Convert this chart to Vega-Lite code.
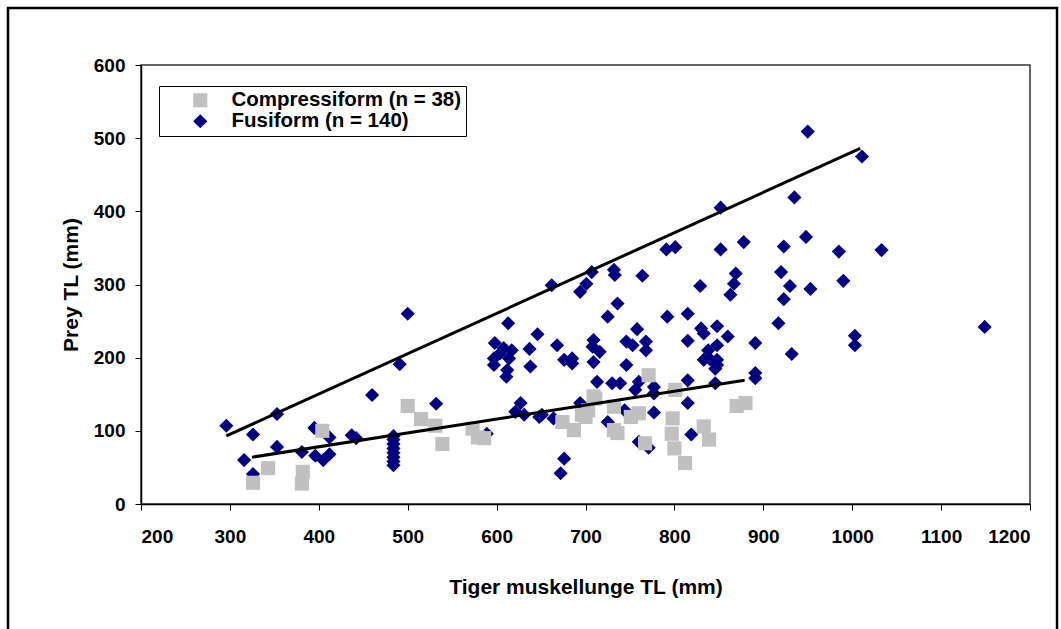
{
  "$schema": "https://vega.github.io/schema/vega-lite/v6.json",
  "autosize": {"type": "none"},
  "width": 889,
  "height": 439,
  "padding": {"left": 141, "top": 65, "right": 31, "bottom": 125},
  "background": "white",
  "config": {
    "font": "Liberation Sans",
    "view": {"stroke": "#333333", "strokeWidth": 1.5},
    "axis": {
      "grid": false,
      "domainColor": "black",
      "domainWidth": 1.5,
      "tickColor": "black",
      "tickWidth": 1,
      "tickSize": 6,
      "labelFont": "Liberation Sans",
      "labelFontWeight": "bold",
      "labelFontSize": 19,
      "labelColor": "black",
      "titleFont": "Liberation Sans",
      "titleFontWeight": "bold",
      "titleFontSize": 21,
      "titleColor": "black"
    }
  },
  "datasets": {
    "fits": [
      {"line": "Fusiform", "tiger": 296, "prey": 93},
      {"line": "Fusiform", "tiger": 1009, "prey": 486},
      {"line": "Compressiform", "tiger": 325, "prey": 64},
      {"line": "Compressiform", "tiger": 879, "prey": 169}
    ],
    "points": [
      {"form": "Fusiform (n = 140)", "tiger": 296, "prey": 107},
      {"form": "Fusiform (n = 140)", "tiger": 316, "prey": 60},
      {"form": "Fusiform (n = 140)", "tiger": 326, "prey": 95},
      {"form": "Fusiform (n = 140)", "tiger": 326, "prey": 41},
      {"form": "Fusiform (n = 140)", "tiger": 353, "prey": 123},
      {"form": "Fusiform (n = 140)", "tiger": 353, "prey": 78},
      {"form": "Fusiform (n = 140)", "tiger": 381, "prey": 71},
      {"form": "Fusiform (n = 140)", "tiger": 395, "prey": 104},
      {"form": "Fusiform (n = 140)", "tiger": 396, "prey": 66},
      {"form": "Fusiform (n = 140)", "tiger": 405, "prey": 60},
      {"form": "Fusiform (n = 140)", "tiger": 412, "prey": 91},
      {"form": "Fusiform (n = 140)", "tiger": 412, "prey": 68},
      {"form": "Fusiform (n = 140)", "tiger": 437, "prey": 94},
      {"form": "Fusiform (n = 140)", "tiger": 442, "prey": 90},
      {"form": "Fusiform (n = 140)", "tiger": 460, "prey": 149},
      {"form": "Fusiform (n = 140)", "tiger": 484, "prey": 53},
      {"form": "Fusiform (n = 140)", "tiger": 484, "prey": 58},
      {"form": "Fusiform (n = 140)", "tiger": 484, "prey": 64},
      {"form": "Fusiform (n = 140)", "tiger": 484, "prey": 70},
      {"form": "Fusiform (n = 140)", "tiger": 484, "prey": 76},
      {"form": "Fusiform (n = 140)", "tiger": 484, "prey": 82},
      {"form": "Fusiform (n = 140)", "tiger": 484, "prey": 88},
      {"form": "Fusiform (n = 140)", "tiger": 484, "prey": 93},
      {"form": "Fusiform (n = 140)", "tiger": 491, "prey": 191},
      {"form": "Fusiform (n = 140)", "tiger": 500, "prey": 260},
      {"form": "Fusiform (n = 140)", "tiger": 532, "prey": 137},
      {"form": "Fusiform (n = 140)", "tiger": 589, "prey": 96},
      {"form": "Fusiform (n = 140)", "tiger": 598, "prey": 220},
      {"form": "Fusiform (n = 140)", "tiger": 608, "prey": 213},
      {"form": "Fusiform (n = 140)", "tiger": 617, "prey": 210},
      {"form": "Fusiform (n = 140)", "tiger": 604, "prey": 206},
      {"form": "Fusiform (n = 140)", "tiger": 597, "prey": 199},
      {"form": "Fusiform (n = 140)", "tiger": 614, "prey": 199},
      {"form": "Fusiform (n = 140)", "tiger": 597, "prey": 190},
      {"form": "Fusiform (n = 140)", "tiger": 612, "prey": 183},
      {"form": "Fusiform (n = 140)", "tiger": 611, "prey": 174},
      {"form": "Fusiform (n = 140)", "tiger": 613, "prey": 247},
      {"form": "Fusiform (n = 140)", "tiger": 637, "prey": 212},
      {"form": "Fusiform (n = 140)", "tiger": 638, "prey": 188},
      {"form": "Fusiform (n = 140)", "tiger": 627, "prey": 138},
      {"form": "Fusiform (n = 140)", "tiger": 621, "prey": 126},
      {"form": "Fusiform (n = 140)", "tiger": 631, "prey": 122},
      {"form": "Fusiform (n = 140)", "tiger": 646, "prey": 232},
      {"form": "Fusiform (n = 140)", "tiger": 651, "prey": 122},
      {"form": "Fusiform (n = 140)", "tiger": 648, "prey": 119},
      {"form": "Fusiform (n = 140)", "tiger": 664, "prey": 117},
      {"form": "Fusiform (n = 140)", "tiger": 662, "prey": 299},
      {"form": "Fusiform (n = 140)", "tiger": 668, "prey": 217},
      {"form": "Fusiform (n = 140)", "tiger": 676, "prey": 197},
      {"form": "Fusiform (n = 140)", "tiger": 685, "prey": 199},
      {"form": "Fusiform (n = 140)", "tiger": 685, "prey": 192},
      {"form": "Fusiform (n = 140)", "tiger": 694, "prey": 290},
      {"form": "Fusiform (n = 140)", "tiger": 701, "prey": 301},
      {"form": "Fusiform (n = 140)", "tiger": 707, "prey": 317},
      {"form": "Fusiform (n = 140)", "tiger": 694, "prey": 138},
      {"form": "Fusiform (n = 140)", "tiger": 698, "prey": 131},
      {"form": "Fusiform (n = 140)", "tiger": 676, "prey": 62},
      {"form": "Fusiform (n = 140)", "tiger": 672, "prey": 42},
      {"form": "Fusiform (n = 140)", "tiger": 709, "prey": 224},
      {"form": "Fusiform (n = 140)", "tiger": 708, "prey": 215},
      {"form": "Fusiform (n = 140)", "tiger": 716, "prey": 208},
      {"form": "Fusiform (n = 140)", "tiger": 709, "prey": 194},
      {"form": "Fusiform (n = 140)", "tiger": 713, "prey": 167},
      {"form": "Fusiform (n = 140)", "tiger": 730, "prey": 165},
      {"form": "Fusiform (n = 140)", "tiger": 739, "prey": 165},
      {"form": "Fusiform (n = 140)", "tiger": 725, "prey": 256},
      {"form": "Fusiform (n = 140)", "tiger": 725, "prey": 112},
      {"form": "Fusiform (n = 140)", "tiger": 732, "prey": 320},
      {"form": "Fusiform (n = 140)", "tiger": 733, "prey": 313},
      {"form": "Fusiform (n = 140)", "tiger": 736, "prey": 274},
      {"form": "Fusiform (n = 140)", "tiger": 746, "prey": 222},
      {"form": "Fusiform (n = 140)", "tiger": 753, "prey": 217},
      {"form": "Fusiform (n = 140)", "tiger": 758, "prey": 239},
      {"form": "Fusiform (n = 140)", "tiger": 768, "prey": 222},
      {"form": "Fusiform (n = 140)", "tiger": 768, "prey": 210},
      {"form": "Fusiform (n = 140)", "tiger": 746, "prey": 190},
      {"form": "Fusiform (n = 140)", "tiger": 744, "prey": 128},
      {"form": "Fusiform (n = 140)", "tiger": 758, "prey": 124},
      {"form": "Fusiform (n = 140)", "tiger": 777, "prey": 125},
      {"form": "Fusiform (n = 140)", "tiger": 760, "prey": 167},
      {"form": "Fusiform (n = 140)", "tiger": 756, "prey": 156},
      {"form": "Fusiform (n = 140)", "tiger": 777, "prey": 160},
      {"form": "Fusiform (n = 140)", "tiger": 777, "prey": 151},
      {"form": "Fusiform (n = 140)", "tiger": 760, "prey": 85},
      {"form": "Fusiform (n = 140)", "tiger": 771, "prey": 77},
      {"form": "Fusiform (n = 140)", "tiger": 764, "prey": 312},
      {"form": "Fusiform (n = 140)", "tiger": 791, "prey": 348},
      {"form": "Fusiform (n = 140)", "tiger": 801, "prey": 351},
      {"form": "Fusiform (n = 140)", "tiger": 792, "prey": 256},
      {"form": "Fusiform (n = 140)", "tiger": 815, "prey": 260},
      {"form": "Fusiform (n = 140)", "tiger": 815, "prey": 223},
      {"form": "Fusiform (n = 140)", "tiger": 800, "prey": 156},
      {"form": "Fusiform (n = 140)", "tiger": 815, "prey": 169},
      {"form": "Fusiform (n = 140)", "tiger": 815, "prey": 138},
      {"form": "Fusiform (n = 140)", "tiger": 819, "prey": 95},
      {"form": "Fusiform (n = 140)", "tiger": 829, "prey": 298},
      {"form": "Fusiform (n = 140)", "tiger": 830, "prey": 240},
      {"form": "Fusiform (n = 140)", "tiger": 833, "prey": 233},
      {"form": "Fusiform (n = 140)", "tiger": 848, "prey": 243},
      {"form": "Fusiform (n = 140)", "tiger": 860, "prey": 229},
      {"form": "Fusiform (n = 140)", "tiger": 848, "prey": 217},
      {"form": "Fusiform (n = 140)", "tiger": 838, "prey": 210},
      {"form": "Fusiform (n = 140)", "tiger": 833, "prey": 197},
      {"form": "Fusiform (n = 140)", "tiger": 840, "prey": 198},
      {"form": "Fusiform (n = 140)", "tiger": 848, "prey": 197},
      {"form": "Fusiform (n = 140)", "tiger": 848, "prey": 190},
      {"form": "Fusiform (n = 140)", "tiger": 846, "prey": 185},
      {"form": "Fusiform (n = 140)", "tiger": 846, "prey": 165},
      {"form": "Fusiform (n = 140)", "tiger": 852, "prey": 348},
      {"form": "Fusiform (n = 140)", "tiger": 852, "prey": 405},
      {"form": "Fusiform (n = 140)", "tiger": 869, "prey": 315},
      {"form": "Fusiform (n = 140)", "tiger": 867, "prey": 301},
      {"form": "Fusiform (n = 140)", "tiger": 863, "prey": 286},
      {"form": "Fusiform (n = 140)", "tiger": 878, "prey": 358},
      {"form": "Fusiform (n = 140)", "tiger": 891, "prey": 220},
      {"form": "Fusiform (n = 140)", "tiger": 891, "prey": 179},
      {"form": "Fusiform (n = 140)", "tiger": 891, "prey": 172},
      {"form": "Fusiform (n = 140)", "tiger": 917, "prey": 247},
      {"form": "Fusiform (n = 140)", "tiger": 920, "prey": 317},
      {"form": "Fusiform (n = 140)", "tiger": 923, "prey": 280},
      {"form": "Fusiform (n = 140)", "tiger": 923, "prey": 352},
      {"form": "Fusiform (n = 140)", "tiger": 930, "prey": 298},
      {"form": "Fusiform (n = 140)", "tiger": 932, "prey": 205},
      {"form": "Fusiform (n = 140)", "tiger": 935, "prey": 419},
      {"form": "Fusiform (n = 140)", "tiger": 948, "prey": 365},
      {"form": "Fusiform (n = 140)", "tiger": 950, "prey": 509},
      {"form": "Fusiform (n = 140)", "tiger": 953, "prey": 294},
      {"form": "Fusiform (n = 140)", "tiger": 985, "prey": 345},
      {"form": "Fusiform (n = 140)", "tiger": 990, "prey": 305},
      {"form": "Fusiform (n = 140)", "tiger": 1003, "prey": 230},
      {"form": "Fusiform (n = 140)", "tiger": 1003, "prey": 217},
      {"form": "Fusiform (n = 140)", "tiger": 1011, "prey": 475},
      {"form": "Fusiform (n = 140)", "tiger": 1033, "prey": 347},
      {"form": "Fusiform (n = 140)", "tiger": 1149, "prey": 242},
      {"form": "Compressiform (n = 38)", "tiger": 326, "prey": 29},
      {"form": "Compressiform (n = 38)", "tiger": 343, "prey": 49},
      {"form": "Compressiform (n = 38)", "tiger": 381, "prey": 28},
      {"form": "Compressiform (n = 38)", "tiger": 382, "prey": 44},
      {"form": "Compressiform (n = 38)", "tiger": 404, "prey": 100},
      {"form": "Compressiform (n = 38)", "tiger": 500, "prey": 134},
      {"form": "Compressiform (n = 38)", "tiger": 515, "prey": 116},
      {"form": "Compressiform (n = 38)", "tiger": 531, "prey": 107},
      {"form": "Compressiform (n = 38)", "tiger": 539, "prey": 82},
      {"form": "Compressiform (n = 38)", "tiger": 573, "prey": 103},
      {"form": "Compressiform (n = 38)", "tiger": 579, "prey": 91},
      {"form": "Compressiform (n = 38)", "tiger": 586, "prey": 90},
      {"form": "Compressiform (n = 38)", "tiger": 674, "prey": 112},
      {"form": "Compressiform (n = 38)", "tiger": 687, "prey": 101},
      {"form": "Compressiform (n = 38)", "tiger": 696, "prey": 122},
      {"form": "Compressiform (n = 38)", "tiger": 703, "prey": 128},
      {"form": "Compressiform (n = 38)", "tiger": 709, "prey": 147},
      {"form": "Compressiform (n = 38)", "tiger": 700, "prey": 119},
      {"form": "Compressiform (n = 38)", "tiger": 711, "prey": 144},
      {"form": "Compressiform (n = 38)", "tiger": 732, "prey": 133},
      {"form": "Compressiform (n = 38)", "tiger": 732, "prey": 101},
      {"form": "Compressiform (n = 38)", "tiger": 736, "prey": 97},
      {"form": "Compressiform (n = 38)", "tiger": 751, "prey": 119},
      {"form": "Compressiform (n = 38)", "tiger": 760, "prey": 124},
      {"form": "Compressiform (n = 38)", "tiger": 767, "prey": 83},
      {"form": "Compressiform (n = 38)", "tiger": 771, "prey": 176},
      {"form": "Compressiform (n = 38)", "tiger": 798, "prey": 117},
      {"form": "Compressiform (n = 38)", "tiger": 797, "prey": 96},
      {"form": "Compressiform (n = 38)", "tiger": 800, "prey": 76},
      {"form": "Compressiform (n = 38)", "tiger": 801, "prey": 156},
      {"form": "Compressiform (n = 38)", "tiger": 812, "prey": 56},
      {"form": "Compressiform (n = 38)", "tiger": 833, "prey": 106},
      {"form": "Compressiform (n = 38)", "tiger": 839, "prey": 88},
      {"form": "Compressiform (n = 38)", "tiger": 870, "prey": 134},
      {"form": "Compressiform (n = 38)", "tiger": 880, "prey": 138}
    ]
  },
  "layer": [
    {
      "data": {"name": "points"},
      "mark": {"type": "point", "filled": true, "opacity": 1, "size": 200, "strokeWidth": 0},
      "encoding": {
        "x": {
          "field": "tiger", "type": "quantitative",
          "scale": {"domain": [200, 1200], "nice": false, "zero": false},
          "axis": {"values": [200, 300, 400, 500, 600, 700, 800, 900, 1000, 1100, 1200], "format": "d", "labelPadding": 17, "title": "Tiger muskellunge TL (mm)", "titlePadding": 30}
        },
        "y": {
          "field": "prey", "type": "quantitative",
          "scale": {"domain": [0, 600], "nice": false},
          "axis": {"values": [0, 100, 200, 300, 400, 500, 600], "format": "d", "labelPadding": 10, "title": "Prey TL (mm)", "titlePadding": 12}
        },
        "color": {
          "field": "form", "type": "nominal",
          "scale": {"domain": ["Compressiform (n = 38)", "Fusiform (n = 140)"], "range": ["#C0C0C0", "#000080"]},
          "legend": {
            "title": null, "orient": "none", "legendX": 18, "legendY": 21,
            "strokeColor": "black", "fillColor": "white", "padding": 4, "rowPadding": 0,
            "symbolOffset": 27, "labelOffset": 21,
            "labelFont": "Liberation Sans", "labelFontWeight": "bold", "labelFontSize": 20.5, "labelColor": "black",
            "symbolSize": 200, "symbolStrokeWidth": 0, "labelLimit": 400
          }
        },
        "shape": {
          "field": "form", "type": "nominal",
          "scale": {"domain": ["Compressiform (n = 38)", "Fusiform (n = 140)"], "range": ["square", "diamond"]}
        }
      }
    },
    {
      "data": {"name": "fits"},
      "mark": {"type": "line", "color": "black", "strokeWidth": 3},
      "encoding": {
        "x": {"field": "tiger", "type": "quantitative"},
        "y": {"field": "prey", "type": "quantitative"},
        "detail": {"field": "line", "type": "nominal"}
      }
    },
    {
      "data": {"values": [{"frame": "outer"}]},
      "mark": {"type": "rect", "fill": null, "stroke": "black", "strokeWidth": 2.5, "clip": false},
      "encoding": {
        "x": {"datum": 50.4, "type": "quantitative"},
        "x2": {"datum": 1230.4},
        "y": {"datum": 677.9, "type": "quantitative"},
        "y2": {"datum": -185.9}
      }
    }
  ]
}
